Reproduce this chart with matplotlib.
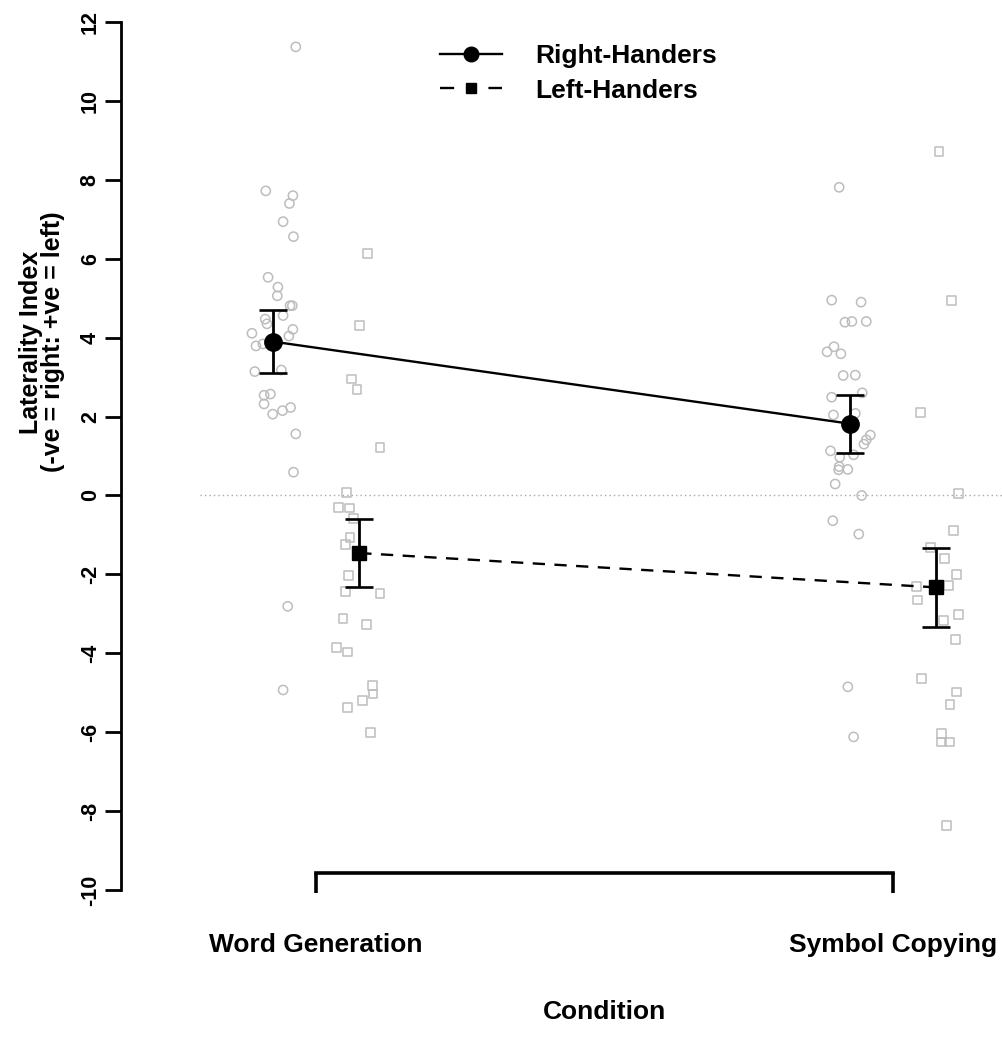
import matplotlib
matplotlib.use("Agg")
import matplotlib.pyplot as plt
from matplotlib.lines import Line2D

plt.rcParams['font.family'] = ['Liberation Sans', 'DejaVu Sans']
plt.rcParams['font.weight'] = 'bold'

# ---------------- data ----------------
conditions = ["Word Generation", "Symbol Copying"]
groups = ["Right-Handers", "Left-Handers"]

# group means and error-bar half lengths (per condition)
rh_means = [3.90, 1.82]
rh_err = [0.79, 0.735]
lh_means = [-1.46, -2.33]
lh_err = [0.865, 1.00]

# individual participants (jittered x, value)
rh_wg_x = [0.965, 0.913, 0.960, 0.954, 0.943, 0.961, 0.917, 0.934, 0.933, 0.955,
           0.959, 0.943, 0.912, 0.915, 0.960, 0.889, 0.953, 0.908, 0.896, 0.940,
           0.894, 0.921, 0.910, 0.910, 0.956, 0.942, 0.925, 0.965, 0.961, 0.951, 0.943]
rh_wg_y = [11.37, 7.72, 7.60, 7.40, 6.94, 6.56, 5.53, 5.28, 5.06, 4.81,
           4.81, 4.56, 4.47, 4.35, 4.21, 4.11, 4.04, 3.84, 3.79, 3.18,
           3.14, 2.57, 2.54, 2.32, 2.23, 2.15, 2.06, 1.56, 0.59, -2.81, -4.93]

lh_wg_x = [1.090, 1.076, 1.061, 1.071, 1.111, 1.053, 1.039, 1.058, 1.065, 1.059,
           1.051, 1.057, 1.051, 1.111, 1.047, 1.087, 1.036, 1.054, 1.098, 1.099,
           1.081, 1.054, 1.094]
lh_wg_y = [6.14, 4.30, 2.95, 2.69, 1.22, 0.07, -0.30, -0.32, -0.58, -1.06,
           -1.25, -2.02, -2.44, -2.49, -3.11, -3.28, -3.85, -3.97, -4.81, -5.03,
           -5.20, -5.37, -6.00]

rh_sc_x = [1.907, 1.894, 1.945, 1.929, 1.917, 1.954, 1.898, 1.886, 1.910, 1.914,
           1.935, 1.947, 1.894, 1.935, 1.897, 1.961, 1.954, 1.950, 1.892, 1.932,
           1.908, 1.907, 1.922, 1.906, 1.900, 1.946, 1.896, 1.941, 1.922, 1.932]
rh_sc_y = [7.81, 4.95, 4.90, 4.41, 4.39, 4.41, 3.77, 3.64, 3.59, 3.04,
           3.05, 2.60, 2.49, 2.08, 2.04, 1.53, 1.41, 1.30, 1.13, 1.03,
           0.97, 0.73, 0.66, 0.65, 0.29, 0.00, -0.64, -0.98, -4.85, -6.12]

lh_sc_x = [2.080, 2.102, 2.048, 2.114, 2.105, 2.065, 2.090, 2.111, 2.097, 2.041,
           2.043, 2.114, 2.088, 2.108, 2.050, 2.111, 2.099, 2.085, 2.085, 2.098, 2.093]
lh_sc_y = [8.71, 4.95, 2.10, 0.04, -0.88, -1.32, -1.59, -2.01, -2.28, -2.31,
           -2.65, -3.02, -3.17, -3.65, -4.64, -4.98, -5.29, -6.03, -6.25, -6.25, -8.36]

y_ticks = list(range(-10, 13, 2))

# ---------------- figure ----------------
W, H = 1003, 1055
fig = plt.figure(figsize=(W / 100, H / 100), dpi=100)
ax = fig.add_axes([121 / W, 165 / H, (W - 121) / W, 868 / H])
ax.set_xlim(0.662, 2.191)
ax.set_ylim(-10, 12)

cat_pos = [1, 2]
off = 0.075
grey = '#bdbdbd'

# zero reference line
ax.plot([0.799, 2.19], [0, 0], ls=(0, (1, 2.2)), color='#a8a8a8', lw=1.0, zorder=1)

# individual points
ax.scatter(rh_wg_x + rh_sc_x, rh_wg_y + rh_sc_y, s=44, marker='o',
           facecolors='none', edgecolors=grey, linewidths=1.1, zorder=2)
ax.scatter(lh_wg_x + lh_sc_x, lh_wg_y + lh_sc_y, s=40, marker='s',
           facecolors='none', edgecolors=grey, linewidths=1.1, zorder=2)

rh_x = [c - off for c in cat_pos]
lh_x = [c + off for c in cat_pos]

# mean lines
ax.plot(rh_x, rh_means, color='k', lw=1.7, zorder=3)
ax.plot(lh_x, lh_means, color='k', lw=1.7, ls=(0, (5.2, 4.0)), zorder=3)

# error bars
ax.errorbar(rh_x, rh_means, yerr=rh_err, fmt='none', ecolor='k',
            elinewidth=2.0, capsize=10.4, capthick=1.9, zorder=4)
ax.errorbar(lh_x, lh_means, yerr=lh_err, fmt='none', ecolor='k',
            elinewidth=2.0, capsize=10.4, capthick=1.9, zorder=4)

# mean markers
ax.plot(rh_x, rh_means, 'o', color='k', ms=12.5, zorder=5)
ax.plot(lh_x, lh_means, 's', color='k', ms=10.5, zorder=5)

# ---------------- axes styling ----------------
for s in ['top', 'right']:
    ax.spines[s].set_visible(False)
ax.spines['left'].set_bounds(-10, 12)
ax.spines['left'].set_linewidth(2.0)
ax.spines['bottom'].set_position(('data', -9.57))
ax.spines['bottom'].set_bounds(1, 2)
ax.spines['bottom'].set_linewidth(2.6)

ax.set_yticks(y_ticks)
ax.set_yticklabels([str(v) for v in y_ticks])
ax.tick_params(axis='y', direction='out', length=11.5, width=2.0, pad=3,
               labelsize=15.5, labelrotation=90)
for lbl in ax.get_yticklabels():
    lbl.set_fontweight('bold')
    lbl.set_va('center')

ax.set_xticks(cat_pos)
ax.set_xticklabels(conditions)
ax.tick_params(axis='x', direction='out', length=14.4, width=2.6, pad=29,
               labelsize=19)
for lbl in ax.get_xticklabels():
    lbl.set_fontweight('bold')

ax.set_xlabel('Condition', fontsize=19, fontweight='bold')
ax.xaxis.set_label_coords((1.5 - 0.662) / (2.191 - 0.662), (890 - 1000) / 868)

fig.text(42 / W, (H - 342) / H, 'Laterality Index\n(-ve = right: +ve = left)',
         rotation=90, ha='center', va='center', fontsize=18, fontweight='bold',
         linespacing=0.85, multialignment='center')

# ---------------- legend ----------------
handles = [
    Line2D([], [], color='k', lw=1.7, marker='o', ms=10.5),
    Line2D([], [], color='k', lw=1.7, ls=(0, (6.0, 14.5)), marker='s', ms=7.5),
]
leg = ax.legend(handles, groups, loc='center left',
                bbox_to_anchor=(440 / W, (H - 73.5) / H),
                bbox_transform=fig.transFigure, frameon=False,
                borderpad=0, borderaxespad=0, handlelength=2.35,
                handletextpad=1.25, labelspacing=0.38,
                prop={'weight': 'bold', 'size': 19})

fig.savefig('out.png', dpi=100)
